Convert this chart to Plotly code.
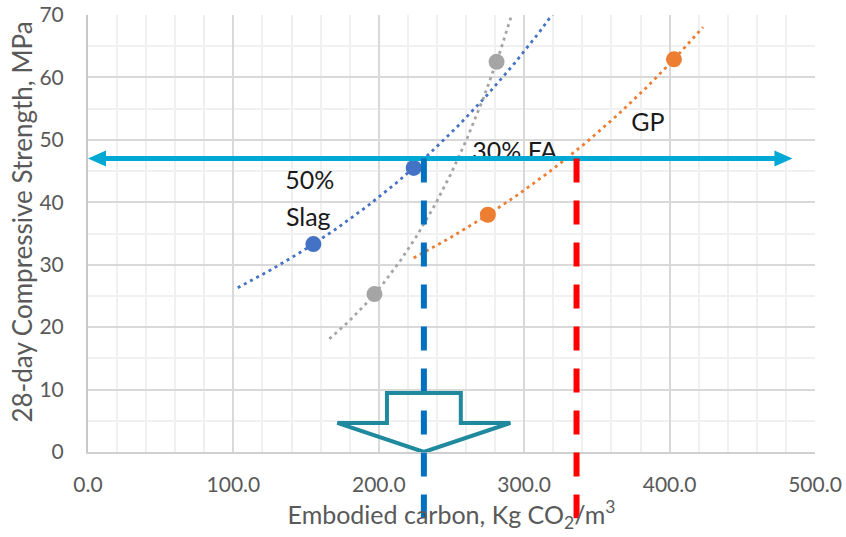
import numpy as np
import plotly.graph_objects as go

# ---------------- data ----------------
slag_x = [155, 224]
slag_y = [33.3, 45.5]
fa_x = [197, 281]
fa_y = [25.3, 62.5]
gp_x = [275, 403]
gp_y = [38.0, 62.9]

# trendline x-extents (Excel exponential trendlines)
slag_fit_range = [103, 330]
fa_fit_range = [166, 296]
gp_fit_range = [224, 423]

target_strength = 47
slag_ec_at_target = 231
gp_ec_at_target = 336
arrow_x_range = [0, 484.5]
drop_line_bottom = -10.6   # data units below the x axis

# hollow down-arrow outline (data coords)
down_arrow_x = [205.6, 256.4, 256.4, 290.5, 231, 171.5, 205.6, 205.6]
down_arrow_y = [9.45, 9.45, 4.65, 4.65, 0, 4.65, 4.65, 9.45]

labels = ["50%", "Slag", "30% FA", "GP"]
label_x = [152.5, 151.5, 293.5, 385]
label_y = [43.1, 37.2, 47.8, 52.5]

x_ticks = [0, 100, 200, 300, 400, 500]
y_ticks = [0, 10, 20, 30, 40, 50, 60, 70]

x_title = "Embodied carbon, Kg CO<sub>2</sub>/m<sup>3</sup>"
y_title = "28-day Compressive Strength, MPa"

BLUE = "#4472C4"
ORANGE = "#ED7D31"
GREY = "#A5A5A5"
CYAN = "#00A8D4"
TEAL = "#1F8A9E"
FONT = "Lato"
X_MAX, Y_MAX = 500, 70


def exp_fit(xs, ys, xr):
    b, ln_a = np.polyfit(xs, np.log(ys), 1)
    xx = np.linspace(xr[0], xr[1], 120)
    return xx, np.exp(ln_a) * np.exp(b * xx)


fig = go.Figure()

for xs, ys, xr, col in [(slag_x, slag_y, slag_fit_range, BLUE),
                        (fa_x, fa_y, fa_fit_range, GREY),
                        (gp_x, gp_y, gp_fit_range, ORANGE)]:
    fx, fy = exp_fit(xs, ys, xr)
    fig.add_trace(go.Scatter(x=fx, y=fy, mode="lines",
                             line=dict(color=col, width=2.8, dash="3px,4px"),
                             hoverinfo="skip", showlegend=False))

for xs, ys, col in [(slag_x, slag_y, BLUE), (fa_x, fa_y, GREY), (gp_x, gp_y, ORANGE)]:
    fig.add_trace(go.Scatter(x=xs, y=ys, mode="markers",
                             marker=dict(color=col, size=16), showlegend=False))

fig.add_trace(go.Scatter(x=label_x, y=label_y, text=labels, mode="text",
                         textfont=dict(family=FONT, size=25, color="#1A1A1A"),
                         textposition="middle center", cliponaxis=False,
                         showlegend=False, hoverinfo="skip"))

# horizontal double arrow
px_per_x = 727 / X_MAX
px_per_y = 437 / Y_MAX
head_len = 18 / px_per_x
head_half = 8 / px_per_y
ax0, ax1 = arrow_x_range
ty = target_strength
fig.add_shape(type="line", x0=ax0 + head_len * 0.8, x1=ax1 - head_len * 0.8, y0=ty, y1=ty,
              xref="x", yref="y", line=dict(color=CYAN, width=5), layer="above")
fig.add_shape(type="path", xref="x", yref="y", layer="above",
              path=f"M {ax0},{ty} L {ax0 + head_len},{ty + head_half} L {ax0 + head_len},{ty - head_half} Z",
              fillcolor=CYAN, line=dict(color=CYAN, width=0))
fig.add_shape(type="path", xref="x", yref="y", layer="above",
              path=f"M {ax1},{ty} L {ax1 - head_len},{ty + head_half} L {ax1 - head_len},{ty - head_half} Z",
              fillcolor=CYAN, line=dict(color=CYAN, width=0))

# vertical drop lines (extend below the axis)
for xv, col in [(slag_ec_at_target, "#0070C0"), (gp_ec_at_target, "#FF0000")]:
    fig.add_shape(type="line", xref="x", yref="paper", layer="above",
                  x0=xv, x1=xv, y0=ty / Y_MAX, y1=drop_line_bottom / Y_MAX,
                  line=dict(color=col, width=6, dash="24px,18px"))

# hollow down arrow
path = "M " + " L ".join(f"{x},{y}" for x, y in zip(down_arrow_x, down_arrow_y)) + " Z"
fig.add_shape(type="path", xref="x", yref="y", layer="above", path=path,
              line=dict(color=TEAL, width=4), fillcolor="rgba(0,0,0,0)")

# y-axis title as rotated annotation for precise placement
fig.add_annotation(text=y_title, xref="paper", yref="paper",
                   x=-66 / 727, y=0.525, xanchor="center", yanchor="middle",
                   textangle=-90, showarrow=False,
                   font=dict(family=FONT, size=26, color="#595959"))

fig.update_layout(
    width=846, height=537,
    margin=dict(l=88, r=31, t=15, b=85, autoexpand=False),
    paper_bgcolor="white", plot_bgcolor="white",
    showlegend=False,
    font=dict(family=FONT, color="#595959"),
)
fig.update_xaxes(
    range=[0, X_MAX], tickvals=x_ticks, tickformat=".1f", automargin=False,
    showgrid=True, gridcolor="#D9D9D9", gridwidth=1.5,
    minor=dict(dtick=20, showgrid=True, gridcolor="#F0F0F0", gridwidth=1.5),
    zeroline=False, showline=True, linecolor="#D0D0D0", linewidth=2,
    tickfont=dict(family=FONT, size=21, color="#595959"),
    ticklabelstandoff=13,
    title=dict(text=x_title,
               font=dict(family=FONT, size=25, color="#595959"), standoff=4),
)
fig.update_yaxes(
    range=[0, Y_MAX], tickvals=y_ticks, automargin=False,
    showgrid=True, gridcolor="#D9D9D9", gridwidth=1.5,
    minor=dict(dtick=5, showgrid=True, gridcolor="#F0F0F0", gridwidth=1.5),
    zeroline=False, showline=True, linecolor="#C8C8C8", linewidth=2,
    tickfont=dict(family=FONT, size=21, color="#595959"),
    ticklabelstandoff=18,
)

fig.write_html("out.html")
